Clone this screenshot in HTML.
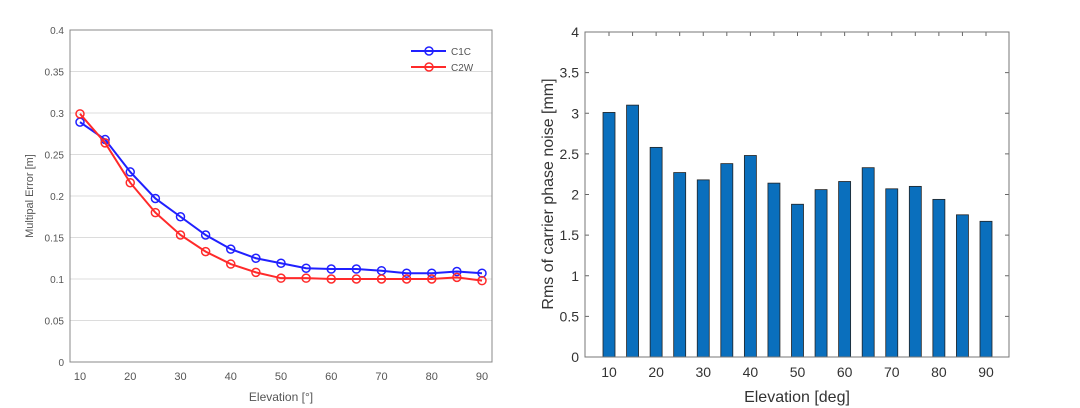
<!DOCTYPE html>
<html><head><meta charset="utf-8"><style>
html,body{margin:0;padding:0;background:#fff;width:1080px;height:408px;overflow:hidden}
svg{display:block;font-family:"Liberation Sans",sans-serif}
</style></head><body>
<svg id="s" width="1080" height="408"></svg>
<script>
const elev=[10,15,20,25,30,35,40,45,50,55,60,65,70,75,80,85,90];
const c1c=[0.289,0.268,0.229,0.197,0.175,0.153,0.136,0.125,0.119,0.113,0.112,0.112,0.110,0.107,0.107,0.109,0.107];
const c2w=[0.299,0.264,0.216,0.180,0.153,0.133,0.118,0.108,0.101,0.101,0.100,0.100,0.100,0.100,0.100,0.102,0.098];
const rms=[3.01,3.10,2.58,2.27,2.18,2.38,2.48,2.14,1.88,2.06,2.16,2.33,2.07,2.10,1.94,1.75,1.67];
const leftYTicks=["0","0.05","0.1","0.15","0.2","0.25","0.3","0.35","0.4"];
const rightYTicks=["0","0.5","1","1.5","2","2.5","3","3.5","4"];
const xTicks=[10,20,30,40,50,60,70,80,90];
const NS="http://www.w3.org/2000/svg";
const svg=document.getElementById('s');
function mk(t,a,p){const e=document.createElementNS(NS,t);for(const k in a)e.setAttribute(k,a[k]);(p||svg).appendChild(e);return e;}
// left
const L={x0:70,x1:492,y0:362,y1:30};
const lx=v=>80+(v-10)/80*402, ly=v=>362-v/0.4*332;
let g=mk('g',{});
leftYTicks.forEach(t=>{const y=ly(+t);
 if(+t>0&&+t<0.4){const l=mk('line',{x1:L.x0,x2:L.x1,y1:y,y2:y,stroke:'#dcdcdc','stroke-width':1},g);}
 const tx=mk('text',{x:64,y:y+4,'text-anchor':'end','font-size':10,fill:'#555'},g);tx.textContent=t;});
let r=mk('rect',{x:L.x0,y:L.y1,width:L.x1-L.x0,height:L.y0-L.y1,fill:'none',stroke:'#888'},g);
xTicks.forEach(v=>{const tx=mk('text',{x:lx(v),y:380,'text-anchor':'middle','font-size':11,fill:'#555'},g);tx.textContent=v;});
let t=mk('text',{x:281,y:401,'text-anchor':'middle','font-size':12,fill:'#555'},g);t.textContent='Elevation [°]';
t=mk('text',{x:0,y:0,transform:'translate(33,196) rotate(-90)','text-anchor':'middle','font-size':11,fill:'#555'},g);t.textContent='Multipal Error [m]';
[[c1c,'#2020ff','c1c'],[c2w,'#ff2a2a','c2w']].forEach(([d,c,n])=>{
 const p=mk('polyline',{points:d.map((v,i)=>lx(elev[i])+','+ly(v)).join(' '),fill:'none',stroke:c,'stroke-width':2},g);
 d.forEach((v,i)=>{const m=mk('circle',{cx:lx(elev[i]),cy:ly(v),r:4,fill:'none',stroke:c,'stroke-width':1.5},g);});});
[['C1C','#2020ff',51],['C2W','#ff2a2a',67]].forEach(([n,c,y])=>{
 const l=mk('line',{x1:411,x2:446,y1:y,y2:y,stroke:c,'stroke-width':2},g);
 const ci=mk('circle',{cx:429,cy:y,r:4,fill:'none',stroke:c,'stroke-width':1.5},g);
 const tx=mk('text',{x:451,y:y+4,'font-size':10,fill:'#555'},g);tx.textContent=n;});
// right
const R={x0:585,x1:1009,y0:357,y1:32};
const rx=v=>609+(v-10)/80*377, ry=v=>357-v/4*325;
g=mk('g',{});
rightYTicks.forEach(tk=>{const y=ry(+tk);
 mk('line',{x1:R.x0,x2:R.x0+4,y1:y,y2:y,stroke:'#666'},g);mk('line',{x1:R.x1-4,x2:R.x1,y1:y,y2:y,stroke:'#666'},g);
 const tx=mk('text',{x:579,y:y+5,'text-anchor':'end','font-size':14,fill:'#333'},g);tx.textContent=tk;});
elev.forEach((v,i)=>{const b=mk('rect',{x:rx(v)-6,y:ry(rms[i]),width:12,height:357-ry(rms[i]),fill:'#0a6fbd',stroke:'#222','stroke-width':0.8},g);
 mk('line',{x1:rx(v),x2:rx(v),y1:R.y1,y2:R.y1+4,stroke:'#666'},g);});
r=mk('rect',{x:R.x0,y:R.y1,width:R.x1-R.x0,height:R.y0-R.y1,fill:'none',stroke:'#777'},g);
xTicks.forEach(v=>{const tx=mk('text',{x:rx(v),y:377,'text-anchor':'middle','font-size':14,fill:'#333'},g);tx.textContent=v;});
t=mk('text',{x:797,y:402,'text-anchor':'middle','font-size':16,fill:'#333'},g);t.textContent='Elevation [deg]';
t=mk('text',{x:0,y:0,transform:'translate(553,194) rotate(-90)','text-anchor':'middle','font-size':16,fill:'#333'},g);t.textContent='Rms of carrier phase noise [mm]';
</script>
</body></html>
